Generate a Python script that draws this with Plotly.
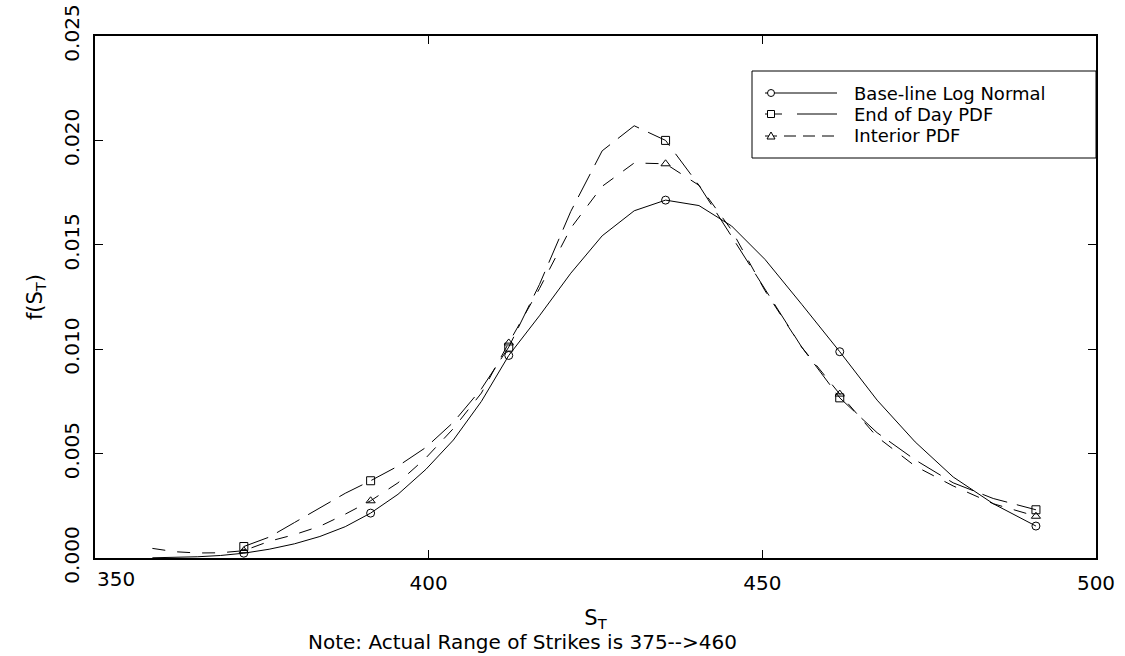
import plotly.graph_objects as go

# ---------------- data ----------------
S_GRID = [358.6, 362.0, 365.4, 368.8, 372.3, 376.1, 379.9, 383.7, 387.5, 391.3,
          395.4, 399.6, 403.7, 407.9, 412.0, 416.6, 421.3, 426.0, 430.8, 435.5,
          440.5, 445.4, 450.4, 455.9, 461.6, 467.2, 472.9, 478.6, 484.6, 491.0]

BASELINE = [0.00001, 0.00003, 0.00006, 0.00012, 0.00023, 0.00042, 0.00068, 0.00103, 0.00150, 0.00215,
            0.00305, 0.00425, 0.00565, 0.00750, 0.00970, 0.01160, 0.01364, 0.01543, 0.01663, 0.01714,
            0.01688, 0.01590, 0.01430, 0.01215, 0.00988, 0.00756, 0.00556, 0.00388, 0.00260, 0.00153]

EOD_S = [372.3, 376.1, 379.9, 383.7, 387.5, 391.3,
         395.4, 399.6, 403.7, 407.9, 412.0, 416.6, 421.3, 426.0, 430.8, 435.5,
         440.5, 445.4, 450.4, 455.9, 461.6, 467.2, 472.9, 478.6, 484.6, 491.0]
END_OF_DAY = [0.00055, 0.00100, 0.00170, 0.00240, 0.00310, 0.00370,
              0.00440, 0.00530, 0.00650, 0.00810, 0.01010, 0.01310, 0.01660, 0.01950, 0.02070, 0.02000,
              0.01785, 0.01540, 0.01290, 0.01010, 0.00767, 0.00600, 0.00470, 0.00360, 0.00285, 0.00231]

INTERIOR = [0.00046, 0.00030, 0.00024, 0.00025, 0.00035, 0.00080, 0.00112, 0.00152, 0.00210, 0.00274,
            0.00360, 0.00480, 0.00620, 0.00790, 0.01030, 0.01290, 0.01580, 0.01780, 0.01892, 0.01888,
            0.01785, 0.01570, 0.01280, 0.01010, 0.00785, 0.00580, 0.00440, 0.00345, 0.00260, 0.00200]

MARKER_S = [372.3, 391.3, 412.0, 435.5, 461.6, 491.0]

SERIES_NAMES = ["Base-line Log Normal", "End of Day PDF", "Interior PDF"]
X_TICKS = [350, 400, 450, 500]
Y_TICKS = [0.000, 0.005, 0.010, 0.015, 0.020, 0.025]
X_TITLE = "S<sub>T</sub>"
Y_TITLE = "f(S<sub>T</sub>)"
NOTE = "Note: Actual Range of Strikes is 375-->460"

# ---------------- layout constants ----------------
W, H = 1125, 656
ML, MR, MT, MB = 95, 29, 36, 98
PW, PH = W - ML - MR, H - MT - MB
FONT = "DejaVu Sans"


def px_x(px):
    return (px - ML) / PW


def px_y(py):
    return (H - MB - py) / PH


def subset(xs, ys, keep):
    idx = [xs.index(k) for k in keep]
    return [xs[i] for i in idx], [ys[i] for i in idx]


series = [
    (S_GRID, BASELINE, "solid", "circle-open", "solid"),
    (EOD_S, END_OF_DAY, "26px,10px", "square-open", "17px,15px,40px"),
    (S_GRID, INTERIOR, "13px,12px", "triangle-up-open", "12px,7px"),
]

fig = go.Figure()
for (xs, ys, dash, sym, _), name in zip(series, SERIES_NAMES):
    fig.add_trace(go.Scatter(x=xs, y=ys, mode="lines", name=name, showlegend=False,
                             line=dict(color="black", width=1, dash=dash)))
    mx, my = subset(xs, ys, MARKER_S)
    fig.add_trace(go.Scatter(x=mx, y=my, mode="markers", name=name, showlegend=False,
                             marker=dict(symbol=sym, size=8, color="black",
                                         line=dict(color="black", width=1))))

# ---------------- custom legend ----------------
shapes = []
annotations = []
LX0, LX1, LY0, LY1 = 752, 1096, 71, 158
shapes.append(dict(type="rect", xref="paper", yref="paper",
                   x0=px_x(LX0), x1=px_x(LX1), y0=px_y(LY1), y1=px_y(LY0),
                   line=dict(color="black", width=1), fillcolor="white", layer="above"))
rows = [93, 114, 136]
for (xs, ys, dash, sym, ldash), name, ry in zip(series, SERIES_NAMES, rows):
    shapes.append(dict(type="line", xref="paper", yref="paper",
                       x0=px_x(765), x1=px_x(837), y0=px_y(ry), y1=px_y(ry),
                       line=dict(color="black", width=1, dash=ldash), layer="above"))
    mxp = px_x(771)
    myp = px_y(ry)
    common = dict(xref="paper", yref="paper", xsizemode="pixel", ysizemode="pixel",
                  xanchor=mxp, yanchor=myp, line=dict(color="black", width=1),
                  fillcolor="white", layer="above")
    if sym.startswith("circle"):
        shapes.append(dict(type="circle", x0=-3.5, x1=3.5, y0=-3.5, y1=3.5, **common))
    elif sym.startswith("square"):
        shapes.append(dict(type="rect", x0=-3.5, x1=3.5, y0=-3.5, y1=3.5, **common))
    else:
        shapes.append(dict(type="path", path="M -4,-3 L 4,-3 L 0,4 Z", **common))
    annotations.append(dict(text=name, xref="paper", yref="paper", x=px_x(852), y=myp,
                            xanchor="left", yanchor="middle", showarrow=False,
                            font=dict(family=FONT, size=18, color="black")))

# first x tick label sits to the right of the axis corner
annotations.append(dict(text=str(X_TICKS[0]), xref="x", yref="paper", x=X_TICKS[0],
                        y=px_y(579), xanchor="left", yanchor="middle", showarrow=False,
                        font=dict(family=FONT, size=20, color="black")))
annotations.append(dict(text=NOTE, xref="paper", yref="paper", x=px_x(522), y=px_y(642),
                        xanchor="center", yanchor="middle", showarrow=False,
                        font=dict(family=FONT, size=20, color="black")))

axis_common = dict(showline=True, linewidth=2, linecolor="black", mirror="ticks",
                   ticks="inside", ticklen=8, tickwidth=1, tickcolor="black",
                   showgrid=False, zeroline=False, automargin=False,
                   tickfont=dict(family=FONT, size=20, color="black"))

fig.update_layout(
    width=W, height=H,
    margin=dict(l=ML, r=MR, t=MT, b=MB, pad=0),
    paper_bgcolor="white", plot_bgcolor="white",
    font=dict(family=FONT, color="black"),
    showlegend=False,
    xaxis=dict(range=[350, 500], tickvals=X_TICKS[1:],
               ticklabelstandoff=6,
               title=dict(text=X_TITLE, font=dict(family=FONT, size=21, color="black"), standoff=16),
               **axis_common),
    yaxis=dict(range=[0, 0.025], tickvals=Y_TICKS, tickformat=".3f", tickangle=-90,
               ticklabelstandoff=6,
               title=dict(text=Y_TITLE, font=dict(family=FONT, size=21, color="black"), standoff=12),
               **axis_common),
    shapes=shapes,
    annotations=annotations,
)

fig.write_html("out.html")
